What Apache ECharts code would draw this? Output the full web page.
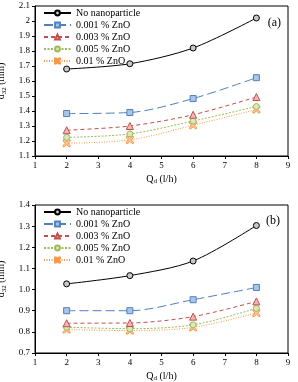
<!DOCTYPE html>
<html><head><meta charset="utf-8">
<script src="https://cdn.jsdelivr.net/npm/echarts@6/dist/echarts.min.js"></script>
<style>html,body{margin:0;padding:0;background:#fff}#c{width:298px;height:382px}</style>
</head><body><div id="c"></div>
<script>
var flowRates = [2, 4, 6, 8];
var seriesNames = ['No nanoparticle', '0.001 % ZnO', '0.003 % ZnO', '0.005 % ZnO', '0.01 % ZnO'];
// panel (a)
var a_none = [1.68, 1.715, 1.82, 2.02];
var a_001 = [1.383, 1.39, 1.483, 1.622];
var a_003 = [1.272, 1.3, 1.375, 1.493];
var a_005 = [1.224, 1.247, 1.333, 1.43];
var a_01 = [1.185, 1.207, 1.305, 1.41];
// panel (b)
var b_none = [1.027, 1.066, 1.135, 1.303];
var b_001 = [0.9, 0.9, 0.952, 1.01];
var b_003 = [0.841, 0.842, 0.872, 0.944];
var b_005 = [0.822, 0.815, 0.833, 0.911];
var b_01 = [0.811, 0.806, 0.821, 0.889];

var FONT = '"Liberation Serif","Times New Roman",serif';
var styles = [
  {line:'#000000', fill:'#c8c8c8', type:'solid', symbol:'circle', size:6},
  {line:'#4f81bd', fill:'#a9c6ea', type:[9,4], symbol:'rect', size:6},
  {line:'#c0504d', fill:'#f4b6b4', type:[4,3], symbol:'triangle', size:7},
  {line:'#9bbb59', fill:'#dbe8bf', type:[2,1.5], symbol:'circle', size:6},
  {line:'#f79646', fill:'#fbc79a', type:[1,1.5], symbol:'path://M0,0L2,0L5,3L8,0L10,0L10,2L7,5L10,8L10,10L8,10L5,7L2,10L0,10L0,8L3,5L0,2Z', size:7}
];
function pairs(v){ return flowRates.map(function(x,i){return [x, v[i]];}); }
var panels = [[a_none,a_001,a_003,a_005,a_01],[b_none,b_001,b_003,b_005,b_01]];
var series = [];
panels.forEach(function(p, gi){
  p.forEach(function(vals, si){
    var s = styles[si];
    series.push({
      name: seriesNames[si], type:'line', xAxisIndex: gi, yAxisIndex: gi,
      data: pairs(vals), smooth: 0.3, symbol: s.symbol, symbolSize: s.size,
      lineStyle:{color:s.line, width:1, type:s.type},
      itemStyle:{color:s.fill, borderColor:s.line, borderWidth:1},
      z: 10 - si
    });
  });
});
var rich = {a:{fontFamily:FONT,fontSize:10,color:'#000'}, s:{fontFamily:FONT,fontSize:7,color:'#000',padding:[5,0,0,0]}};
function xAx(gi){ return {type:'value', gridIndex:gi, min:1, max:9, interval:1,
  axisLine:{lineStyle:{color:'#000',width:1}}, axisTick:{show:true,inside:false,length:3,lineStyle:{color:'#000'}},
  axisLabel:{fontFamily:FONT,fontSize:9,color:'#000',margin:5}, splitLine:{show:false},
  name:'{a|Q}{s|d}{a| (l/h)}', nameLocation:'middle', nameGap:17, nameTextStyle:{rich:rich}}; }
function yAx(gi, min, max, fmt){ return {type:'value', gridIndex:gi, min:min, max:max, interval:0.1,
  axisLine:{lineStyle:{color:'#000',width:1}}, axisTick:{show:true,inside:false,length:3,lineStyle:{color:'#000'}},
  axisLabel:{fontFamily:FONT,fontSize:9,color:'#000',margin:5,formatter:fmt}, splitLine:{show:false},
  name:'{a|d}{s|32}{a| (mm)}', nameLocation:'middle', nameRotate:90, nameGap:22, nameTextStyle:{rich:rich}}; }
var legendBase = {orient:'vertical', left:38, itemWidth:27, itemHeight:6, itemGap:2,
  textStyle:{fontFamily:FONT,fontSize:10,color:'#000'}, data:seriesNames, selectedMode:false};
var chart = echarts.init(document.getElementById('c'));
chart.setOption({
  animation:false,
  grid:[{left:35,right:10,top:6,height:150,show:true,borderColor:'#000',borderWidth:1,containLabel:false,outerBoundsMode:'none'},
        {left:35,right:10,top:205,height:148,show:true,borderColor:'#000',borderWidth:1,containLabel:false,outerBoundsMode:'none'}],
  xAxis:[xAx(0), xAx(1)],
  yAxis:[yAx(0,1.1,2.1,function(v){return String(+v.toFixed(1));}), yAx(1,0.7,1.4,function(v){return v.toFixed(1);})],
  legend:[Object.assign({top:3}, legendBase), Object.assign({top:202}, legendBase)],
  title:[{text:'(a)', right:12, top:12, textStyle:{fontFamily:FONT,fontSize:12,fontWeight:'normal',color:'#000'}},
         {text:'(b)', right:13, top:210, textStyle:{fontFamily:FONT,fontSize:12,fontWeight:'normal',color:'#000'}}],
  series: series
});
</script></body></html>
